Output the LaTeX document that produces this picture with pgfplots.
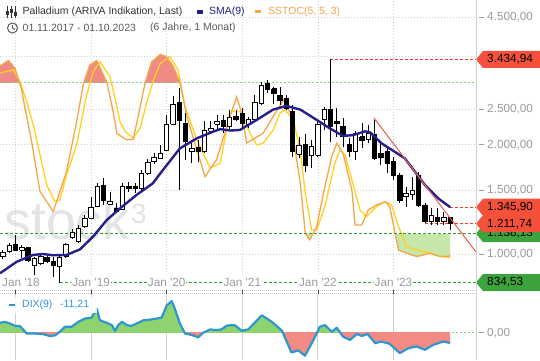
\documentclass[border=0pt]{standalone}
\usepackage{pgfplots}
\pgfplotsset{compat=1.18}
\usepackage{pgfplotstable}
\usepackage{fontspec}
\setmainfont{Liberation Sans}

\definecolor{gridgray}{HTML}{CFCFCF}
\definecolor{labelgray}{HTML}{9C9C9C}
\definecolor{hdrdark}{HTML}{333333}
\definecolor{hdrgray}{HTML}{5A5A5A}
\definecolor{smanavy}{HTML}{26208A}
\definecolor{sstK}{HTML}{F5A54A}
\definecolor{sstD}{HTML}{FFD21F}
\definecolor{redfill}{HTML}{F08A85}
\definecolor{greenfill}{HTML}{C8E6A8}
\definecolor{tagred}{HTML}{F4503A}
\definecolor{taggreen}{HTML}{3DA33D}
\definecolor{lvlgreen}{HTML}{8CCF7A}
\definecolor{trendred}{HTML}{F25A4A}
\definecolor{dixblue}{HTML}{2E97D0}
\definecolor{dixgreen}{HTML}{8ED36E}
\definecolor{dixred}{HTML}{F48A84}
\definecolor{wm}{HTML}{E4E4E4}

\newcommand\hdrfont{\fontsize{10.5}{12}\selectfont}
\newcommand\tickfont{\fontsize{11.8}{13}\selectfont}

\pgfplotsset{base/.style={anchor=south west, scale only axis, width=476bp,
  xmin=-0.46, xmax=75.1}}

% monthly candles: month index from Nov 2017, open high low close
\pgfplotstableread{
m o h l c
0 983 1025 969 1008
1 1015 1072 1006 1054
2 1066 1128 1019 1026
3 1026 1059 975 1045
4 1041 1047 952 963
5 933 983 875 971
6 943 1004 933 983
7 979 994 943 956
8 952 983 866 933
9 927 994 834.53 979
10 987 1074 973 1066
11 1114 1172 1100 1150
12 1081 1202 1072 1179
13 1189 1281 1179 1256
14 1256 1439 1248 1347
15 1350 1569 1347 1539
16 1549 1620 1365 1409
17 1373 1484 1365 1393
18 1339 1382 1297 1308
19 1330 1569 1322 1535
20 1539 1582 1484 1517
21 1532 1569 1473 1517
22 1517 1706 1501 1672
23 1672 1831 1651 1785
24 1796 1895 1774 1847
25 1832 1997 1826 1895
26 1935 2416 1935 2277
27 2277 2726 2267 2585
28 2612 2862 1501 2330
29 2291 2443 1816 2039
30 1913 2062 1780 1955
31 1962 2062 1796 1913
32 1913 2321 1895 2189
33 2177 2321 2138 2225
34 2281 2416 2177 2321
35 2331 2416 2150 2246
36 2246 2500 2196 2375
37 2398 2500 2321 2346
38 2443 2527 2225 2296
39 2282 2385 2219 2342
40 2342 2742 2321 2612
41 2597 2986 2573 2923
42 2953 3016 2771 2834
43 2852 2891 2597 2771
44 2742 2891 2573 2657
45 2683 2742 2500 2524
46 2464 2573 1855 1913
47 1886 2104 1835 1987
48 2000 2138 1686 1759
49 1875 2062 1723 1976
50 1875 2321 1855 2281
51 2342 2545 2196 2500
52 2508 3434.94 2039 2246
53 2321 2524 2104 2291
54 2246 2375 1976 2104
55 2000 2088 1855 1913
56 1913 2177 1816 2150
57 2104 2296 1960 2062
58 2075 2267 2018 2148
59 2138 2342 1816 1835
60 1894 2023 1759 1849
61 1913 1976 1669 1777
62 1796 1855 1600 1651
63 1651 1669 1380 1409
64 1439 1533 1350 1470
65 1463 1633 1409 1501
66 1651 1686 1350 1365
67 1365 1380 1215 1228
68 1233 1339 1202 1281
69 1262 1339 1202 1228
70 1228 1308 1202 1262
71 1262 1267 1165 1211.74
}\candles

\pgfplotstableread{
m v
-0.46 885
2.19 952
4.78 994
6.37 1000
7.95 992
10.1 994
12.24 1030
14.3 1116
16.5 1241
18.6 1336
21.2 1454
23.8 1566
25.4 1704
28.1 1955
30.8 2084
33.35 2173
34.5 2208
36.05 2189
37.6 2196
40.3 2342
42.9 2500
45.0 2558
47.2 2500
49.8 2342
51.9 2219
54.0 2114
55.6 2127
57.5 2177
58.3 2163
60.1 2018
62.2 1913
63.8 1835
65.4 1686
67.0 1549
69.1 1423
71.0 1345.9
}\sma

\pgfplotstableread{
m v
-0.46 86.5
0.9 88.6
1.92 85.5
2.98 77.0
3.51 69.7
4.57 56.5
5.89 36.8
8.0 28.9
10.1 44.7
11.7 64.4
12.8 79.6
13.8 86.8
14.9 88.6
16.5 80.0
17.5 68.4
18.1 59.8
19.65 57.2
20.7 57.5
21.6 68.0
22.6 80.0
23.6 88.0
25.0 91.0
26.0 90.0
27.0 86.5
28.1 80.0
29.2 66.4
30.8 53.2
32.1 42.7
33.9 49.3
36.05 66.4
37.1 74.2
37.9 67.9
38.7 56.0
40.0 57.9
41.3 59.8
42.9 66.4
44.5 73.0
45.6 67.9
46.1 58.0
47.2 40.1
48.0 20.3
48.7 17.7
49.8 22.9
51.1 38.7
52.2 50.6
53.0 55.9
54.0 51.9
55.4 37.4
55.9 23.6
56.95 23.6
58.0 29.5
59.3 31.5
60.7 32.8
61.4 30.8
62.8 13.7
64.1 12.4
65.7 11.1
67.8 12.4
69.4 11.1
71.0 11.3
}\sstocK

\pgfplotstableread{
m v
-0.46 83.6
1.65 84.9
2.71 80.2
3.78 72.3
4.83 63.1
5.89 51.3
6.95 39.4
8.27 32.8
9.06 33.5
10.1 43.4
11.7 55.2
13.3 75.0
14.35 84.2
15.4 88.1
17.0 82.2
17.8 73.7
18.6 64.4
19.4 60.5
20.65 58.0
21.8 61.9
22.8 71.7
23.9 80.9
25.0 87.5
26.5 90.1
27.8 84.9
28.9 70.4
30.8 57.2
32.9 46.1
34.5 48.0
36.05 68.4
37.6 68.4
38.4 65.1
39.2 59.8
40.3 55.2
41.3 55.9
42.9 61.1
44.0 67.9
44.8 69.0
46.1 65.1
47.2 53.2
48.0 36.1
49.0 21.6
49.8 21.6
51.1 30.8
52.7 48.0
53.5 53.2
54.3 51.3
55.4 41.4
56.7 29.5
57.7 26.9
59.3 30.8
60.7 32.8
61.7 31.5
62.8 22.9
64.1 15.0
65.7 13.7
67.8 12.4
69.4 11.1
71.0 10.8
}\sstocD

\pgfplotstableread{
m v
-0.46 10.8
0.33 11.9
1.13 10.0
1.92 7.5
2.71 7.2
3.77 -0.8
4.83 -0.8
6.41 -1.6
7.48 -3.7
8.27 -2.9
9.06 1.1
9.86 6.5
10.9 6.5
11.97 11.9
13.03 15.5
14.1 16.5
14.9 26.2
15.4 13.6
16.5 10.8
17.3 8.3
17.8 2.1
18.3 8.3
18.9 11.9
19.7 8.3
20.4 7.5
21.2 10.0
22.3 13.6
23.3 14.3
24.4 15.5
25.2 16.5
26.0 29.8
26.8 34.6
27.3 26.2
28.1 10.0
28.9 -0.8
30.0 -2.5
31.0 -5.1
31.8 0
32.9 3.6
33.9 2.9
34.7 3.6
35.5 7.7
36.3 8.3
36.8 8.2
37.9 2.2
38.95 3.6
41.1 19.0
42.7 11.9
44.3 2.2
45.8 -21.6
46.9 -19.4
47.95 -25.2
49.3 -7.9
50.3 6.5
51.1 8.3
52.2 1.1
53.0 5.4
54.0 -4.3
55.1 -7.9
56.2 -1.4
56.95 -3.6
57.9 -1.4
59.1 -11.5
60.1 -9.7
61.4 -12.2
63.0 -22.3
64.4 -16.9
65.7 -15.1
67.0 -18.7
68.3 -13.3
69.9 -9.7
71.0 -11.21
}\dix

\newcommand{\pricetag}[3]{%
  \fill[#2] (axis cs:75.1,#1) -- ++(7bp,8.5bp) -- ++(57bp,0bp) -- ++(0bp,-17bp) -- ++(-57bp,0bp) -- cycle;
  \node[anchor=west, inner sep=0pt, font=\tickfont, text=black] at ([xshift=11bp]axis cs:75.1,#1) {#3};
}
\newcommand{\ylab}[2]{%
  \draw[labelgray, line width=0.8bp] ([xshift=3bp]axis cs:75.1,#1) -- ([xshift=8bp]axis cs:75.1,#1);
  \node[anchor=west, inner sep=0pt, font=\tickfont, text=labelgray] at ([xshift=11bp]axis cs:75.1,#1) {#2};
}
\newcommand{\xlab}[2]{%
  \node[font=\tickfont, text=labelgray, fill=white, inner sep=1bp] at (axis cs:#1,834.5) {#2};
}

\begin{document}
\begin{tikzpicture}[x=1bp,y=1bp]
\useasboundingbox (0,0) rectangle (540,360);
\fill[white] (0,0) rectangle (540,360);

% watermark
\node[anchor=base west, inner sep=0pt, text=wm, font=\fontsize{54}{54}\selectfont] at (4,121) {stock};
\node[anchor=base west, inner sep=0pt, text=wm, font=\fontsize{28}{28}\selectfont] at (131,137) {3};

% ---------- grid of price panel
\begin{axis}[base, at={(0bp,67bp)}, height=293bp, ymode=log,
  ymin=781, ymax=5010,
  axis line style={draw=none},
  xtick={2,14,26,38,50,62}, xticklabels={},
  ytick={1000,1500,2000,2500,3500,4500}, yticklabels={},
  major tick length=0pt, grid=major,
  major grid style={gridgray, line width=0.7bp, dash pattern=on 1bp off 2bp}]
\addplot[draw=none] coordinates {(10,1000)};
\end{axis}

% ---------- SSTOC: zone above 80
\begin{axis}[base, at={(0bp,277.8bp)}, height=82.2bp, ymin=80, ymax=112.5, hide axis]
\addplot[fill=redfill, draw=none] table {\sstocK} -- (axis cs:71,-100) -- (axis cs:-0.46,-100) -- cycle;
\end{axis}
% ---------- SSTOC: zone below 20
\begin{axis}[base, at={(0bp,67bp)}, height=58.95bp, ymin=-3.3, ymax=20, hide axis]
\addplot[fill=greenfill, draw=none] table {\sstocK} -- (axis cs:71,200) -- (axis cs:-0.46,200) -- cycle;
\end{axis}
% ---------- SSTOC lines
\begin{axis}[base, at={(0bp,67bp)}, height=293bp, ymin=-3.3, ymax=112.5, hide axis]
\addplot[color=lvlgreen, line width=0.8bp, dash pattern=on 2bp off 2bp, mark=none] coordinates {(-0.46,80) (75.1,80)};
\addplot[color=sstD, line width=1.3bp, mark=none] table {\sstocD};
\addplot[color=sstK, line width=1.3bp, mark=none] table {\sstocK};
\end{axis}

% ---------- support / resistance lines
\begin{axis}[base, at={(0bp,67bp)}, height=293bp, ymode=log,
  ymin=781, ymax=5010, hide axis]
\addplot[draw={rgb,255:red,46;green,160;blue,46}, line width=1bp, densely dashed, mark=none] coordinates {(-0.46,1138.13) (75.1,1138.13)};
\addplot[draw={rgb,255:red,46;green,160;blue,46}, line width=1bp, densely dashed, mark=none] coordinates {(9,834.53) (75.1,834.53)};
\addplot[draw={rgb,255:red,240;green,60;blue,42}, line width=1bp, densely dashed, mark=none] coordinates {(52,3434.94) (75.1,3434.94)};
\addplot[draw={rgb,255:red,240;green,60;blue,42}, line width=1bp, densely dashed, mark=none] coordinates {(67,1211.74) (75.1,1211.74)};
\addplot[draw={rgb,255:red,240;green,60;blue,42}, line width=1bp, densely dashed, mark=none] coordinates {(71,1345.90) (75.1,1345.90)};
\end{axis}

% ---------- candles, SMA, trend line
\begin{axis}[base, at={(0bp,67bp)}, height=293bp, ymode=log,
  ymin=781, ymax=5010, hide axis]
\pgfplotsinvokeforeach{0,...,71}{%
  \pgfplotstablegetelem{#1}{m}\of\candles \let\cm\pgfplotsretval
  \pgfplotstablegetelem{#1}{o}\of\candles \let\co\pgfplotsretval
  \pgfplotstablegetelem{#1}{h}\of\candles \let\ch\pgfplotsretval
  \pgfplotstablegetelem{#1}{l}\of\candles \let\cl\pgfplotsretval
  \pgfplotstablegetelem{#1}{c}\of\candles \let\cc\pgfplotsretval
  \pgfmathsetmacro\xl{\cm-0.35}%
  \pgfmathsetmacro\xr{\cm+0.35}%
  \pgfmathtruncatemacro\bull{(\cc>=\co) ? 1 : 0}%
  \ifnum\bull=1 \def\fc{white}\else\def\fc{black}\fi
  \edef\doit{%
    \noexpand\addplot[forget plot, color=black, line width=0.8bp, mark=none] coordinates {(\cm,\cl) (\cm,\ch)};%
    \noexpand\addplot[forget plot, color=black, line width=0.8bp, fill=\fc, mark=none] coordinates {(\xl,\co) (\xr,\co) (\xr,\cc) (\xl,\cc) (\xl,\co)};%
  }%
  \doit
}
\addplot[color=smanavy, line width=2.4bp, line join=round, mark=none] table {\sma};
\addplot[color=trendred, line width=1bp, mark=none] coordinates {(58.9,2370) (75.1,1013)};
\end{axis}

% ---------- labels and tags
\begin{axis}[base, at={(0bp,67bp)}, height=293bp, ymode=log,
  ymin=781, ymax=5010, hide axis, clip=false]
\addplot[draw=none] coordinates {(10,1000)};
\xlab{2.87}{Jan \textquotesingle18}
\xlab{14}{Jan \textquotesingle19}
\xlab{26}{Jan \textquotesingle20}
\xlab{38}{Jan \textquotesingle21}
\xlab{50}{Jan \textquotesingle22}
\xlab{62}{Jan \textquotesingle23}
\ylab{4500}{4.500,00}
\ylab{2500}{2.500,00}
\ylab{2000}{2.000,00}
\ylab{1500}{1.500,00}
\ylab{1000}{1.000,00}
\pricetag{3434.94}{tagred}{3.434,94}
\pricetag{1138.13}{taggreen}{1.138,13}
\pricetag{1345.90}{tagred}{1.345,90}
\pricetag{1211.74}{tagred}{1.211,74}
\pricetag{834.53}{taggreen}{834,53}
\end{axis}

% ---------- DIX panel: grid
\begin{axis}[base, at={(0bp,0bp)}, height=66bp, ymin=-29.9, ymax=42.4,
  axis line style={draw=none},
  xtick={2,14,26,38,50,62}, xticklabels={}, ytick=\empty,
  major tick length=0pt, xmajorgrids,
  major grid style={gridgray, line width=0.8bp}]
\addplot[color=lvlgreen, line width=0.8bp, dash pattern=on 2bp off 2bp, mark=none] coordinates {(-0.46,0) (75.1,0)};
\end{axis}
% DIX positive zone
\begin{axis}[base, at={(0bp,27.3bp)}, height=38.7bp, ymin=0, ymax=42.4, hide axis]
\addplot[fill=dixgreen, draw=none] table {\dix} -- (axis cs:71,-100) -- (axis cs:-0.46,-100) -- cycle;
\end{axis}
% DIX negative zone
\begin{axis}[base, at={(0bp,0bp)}, height=27.3bp, ymin=-29.9, ymax=0, hide axis]
\addplot[fill=dixred, draw=none] table {\dix} -- (axis cs:71,100) -- (axis cs:-0.46,100) -- cycle;
\end{axis}
% DIX line
\begin{axis}[base, at={(0bp,0bp)}, height=66bp, ymin=-29.9, ymax=42.4, hide axis]
\addplot[color=dixblue, line width=2.2bp, line join=round, mark=none] table {\dix};
\end{axis}
\begin{axis}[base, at={(0bp,0bp)}, height=66bp, ymin=-29.9, ymax=42.4, hide axis, clip=false]
\addplot[draw=none] coordinates {(10,0)};
\ylab{0}{0,00}
\end{axis}

% panel borders
\draw[gridgray, line width=0.8bp] (476,0) -- (476,360);
\draw[gray!45, line width=0.8bp, dash pattern=on 1bp off 1bp] (0,69.5) -- (476,69.5);
\draw[gray!45, line width=0.8bp, dash pattern=on 1bp off 1bp] (0,67) -- (476,67);
\foreach \xx in {15.5,91.1,166.7,242.3,317.9,393.5} {\draw[black!70, line width=0.8bp] (\xx,66) -- (\xx,70);}

% DIX legend
\fill[white, opacity=0.85] (5,47) rectangle (97,63);
\draw[dixblue, line width=2.5bp] (9,55) -- (15,55);
\node[anchor=west, inner sep=0pt, font=\hdrfont, text=dixblue] at (22,55) {DIX(9)};
\node[anchor=west, inner sep=0pt, font=\hdrfont, text=dixblue] at (60,55) {-11,21};

% header
\foreach \xx/\bb/\bt in {7.5/345/349, 11.5/347/351, 15.5/344/348} {
  \draw[hdrdark, line width=0.9bp] (\xx,342) -- (\xx,354);
  \fill[hdrdark] (\xx-1.6,\bb) rectangle (\xx+1.6,\bt);
}
\node[anchor=west, inner sep=0pt, font=\hdrfont, text=hdrdark] at (22.5,348) {Palladium (ARIVA Indikation, Last)};
\fill[smanavy] (197,346) rectangle (203,350);
\node[anchor=west, inner sep=0pt, font=\hdrfont, text=smanavy] at (209,348) {SMA(9)};
\fill[sstK] (255,346.5) rectangle (261,349.5);
\node[anchor=west, inner sep=0pt, font=\hdrfont, text=sstK] at (268,348) {SSTOC(5, 5, 3)};
\draw[hdrgray, line width=1bp] (12.5,332) circle (5);
\draw[hdrgray, line width=1bp] (12.5,332) -- (12.5,335.2);
\draw[hdrgray, line width=1bp] (12.5,332) -- (14.8,330.5);
\node[anchor=west, inner sep=0pt, font=\hdrfont, text=hdrgray] at (22.5,332) {01.11.2017 - 01.10.2023};
\node[anchor=west, inner sep=0pt, font=\hdrfont, text=hdrgray] at (150,332) {(6 Jahre, 1 Monat)};
\end{tikzpicture}
\end{document}
